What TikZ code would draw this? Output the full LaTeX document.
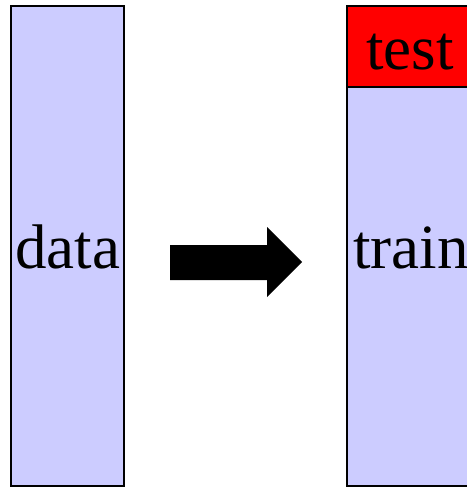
\documentclass[tikz,border=0pt]{standalone}
\usepackage{fontspec}
\setmainfont{Liberation Serif}
\definecolor{lav}{RGB}{204,204,255}
\begin{document}
\begin{tikzpicture}[x=1pt,y=-1pt,
  part/.style={draw=black,line width=2pt,inner sep=0pt,outer sep=0pt},
  lbl/.style={anchor=base,inner sep=0pt,font=\fontsize{63}{63}\selectfont}]
\useasboundingbox (0,0) rectangle (466,487);
% whole data set
\node[part,fill=lav,minimum width=113pt,minimum height=480pt] (data) at (67.5,246) {};
\node[lbl] (datalbl) at (67.5,268) {data};
% split: training part and test part
\node[part,fill=lav,minimum width=128pt,minimum height=399pt] (train) at (411,286.5) {};
\node[part,fill=red,minimum width=128pt,minimum height=81pt] (test) at (411,46.5) {};
\node[lbl] (testlbl) at (410,70) {test};
\node[lbl] (trainlbl) at (411,268) {train};
% block arrow
\fill[black] (170,245) -- (267,245) -- (267,227) -- (302,262) -- (267,297) -- (267,280) -- (170,280) -- cycle;
\end{tikzpicture}
\end{document}
